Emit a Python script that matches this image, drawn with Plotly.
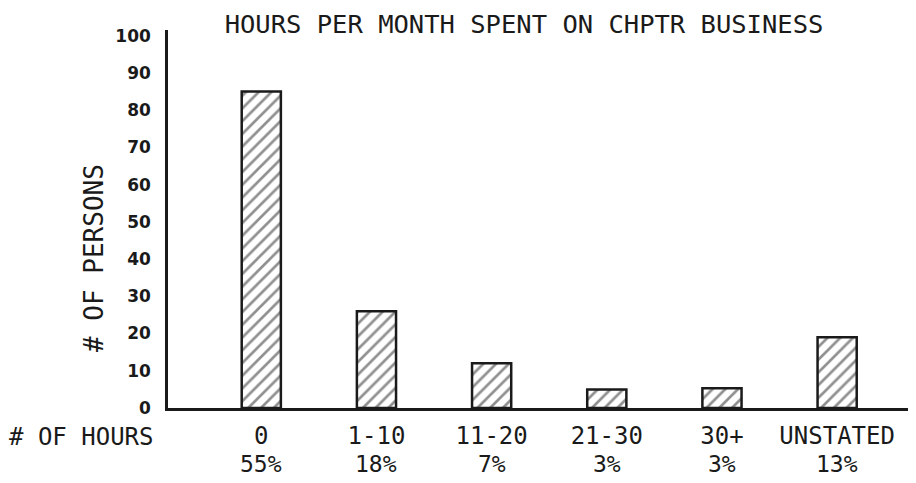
import plotly.graph_objects as go

categories = ["0", "1-10", "11-20", "21-30", "30+", "UNSTATED"]
persons = [85, 26, 12, 5, 5.3, 19]
percents = ["55%", "18%", "7%", "3%", "3%", "13%"]
y_ticks = [0, 10, 20, 30, 40, 50, 60, 70, 80, 90, 100]

title_text = "HOURS PER MONTH SPENT ON CHPTR BUSINESS"
y_title = "# OF PERSONS"
x_title = "# OF HOURS"

MONO = "DejaVu Sans Mono"
INK = "#1a1a1a"

# The page body adds an 8px margin, so the figure is 8px smaller on each axis
W, H = 908, 475
L, R, T, B = 160, 4, 22, 75
plot_w = W - L - R
plot_h = H - T - B

fig = go.Figure()
fig.add_trace(go.Bar(
    x=categories,
    y=persons,
    width=0.34,
    marker=dict(
        color="white",
        line=dict(color=INK, width=2.5),
        pattern=dict(shape="/", fgcolor="#222222", bgcolor="white",
                     size=9, solidity=0.3),
    ),
    showlegend=False,
    hoverinfo="x+y",
))

annotations = []
for c, p in zip(categories, percents):
    annotations.append(dict(
        x=c, y=0, xref="x", yref="paper", text=p, showarrow=False,
        yshift=-56, yanchor="middle", xanchor="center",
        font=dict(family=MONO, size=23, color=INK),
    ))
annotations.append(dict(
    x=(7 - 168) / plot_w, y=0, xref="paper", yref="paper", text=x_title,
    showarrow=False, xanchor="left", yanchor="middle", yshift=-29,
    font=dict(family=MONO, size=24, color=INK),
))
annotations.append(dict(
    x=(94 - 168) / plot_w, y=(408 - 258) / plot_h, xref="paper", yref="paper",
    text=y_title, textangle=-90, showarrow=False,
    xanchor="center", yanchor="middle",
    font=dict(family=MONO, size=26, color=INK),
))

fig.update_layout(
    width=W, height=H,
    margin=dict(l=L, r=R, t=T, b=B, autoexpand=False),
    paper_bgcolor="white", plot_bgcolor="white",
    title=dict(text=title_text, x=516 / W, xanchor="center",
               y=1 - 16 / H, yanchor="middle", xref="container", yref="container",
               font=dict(family=MONO, size=25.5, color=INK)),
    xaxis=dict(
        type="category", range=[-0.81, 5.65],
        showline=True, linecolor=INK, linewidth=2.5,
        showgrid=False, zeroline=False, ticks="",
        tickfont=dict(family=MONO, size=24, color=INK),
        ticklabelstandoff=4,
    ),
    yaxis=dict(
        range=[0, 101.5], tickvals=y_ticks,
        showline=True, linecolor=INK, linewidth=2.5,
        showgrid=False, zeroline=False, ticks="",
        tickfont=dict(family="DejaVu Sans", size=17, color=INK, weight="bold"),
        ticklabelstandoff=11,
    ),
    annotations=annotations,
    bargap=0.66,
)

fig.write_html("out.html")
